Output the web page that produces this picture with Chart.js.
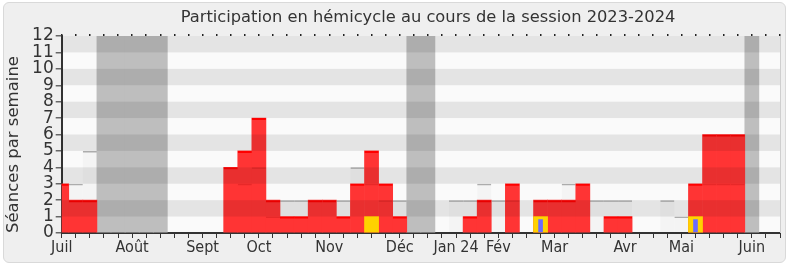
<!DOCTYPE html>
<html><head><meta charset="utf-8">
<script src="https://cdn.jsdelivr.net/npm/chart.js@4.4.0/dist/chart.umd.min.js"></script>
<style>
html,body{margin:0;padding:0;background:#fff;width:790px;height:267px;overflow:hidden}
#panel{position:absolute;left:3px;top:2px;width:783px;height:261px;background:#efefef;border:1px solid #d9d9d9;border-radius:6px;box-sizing:border-box}
#wrap{position:absolute;left:0;top:0;width:790px;height:267px}
</style></head><body>
<div id="panel"></div>
<div id="wrap"><canvas id="c" width="790" height="267"></canvas></div>
<script>
const titre = 'Participation en hémicycle au cours de la session 2023-2024';
const titreAxeY = 'Séances par semaine';
const mois = ['Juil','Août','Sept','Oct','Nov','Déc','Jan 24','Fév','Mar','Avr','Mai','Juin'];
const moisSemaine = [0,5,10,14,19,24,28,31,35,40,44,49];
const nbSemaines = 52;
const vacances = [3,4,5,6,7,25,26,49];
const presences = [3,2,2,0,0,0,0,0,0,0,0,0,4,5,7,2,1,1,2,2,1,3,5,3,1,0,0,0,0,1,2,0,3,0,2,2,2,3,0,1,1,0,0,0,0,3,6,6,6,0,0,0];
const mediane   = [3,3,5,0,0,0,0,0,0,0,0,0,4,3,4,1,2,2,2,2,2,4,3,2,2,0,0,0,2,2,3,2,2,0,2,2,3,3,2,2,2,0,0,2,1,3,3,3,3,0,0,0];
const interventions = [0,0,0,0,0,0,0,0,0,0,0,0,0,0,0,0,0,0,0,0,0,0,1,0,0,0,0,0,0,0,0,0,0,0,1,0,0,0,0,0,0,0,0,0,0,1,0,0,0,0,0,0];
const questions = [0,0,0,0,0,0,0,0,0,0,0,0,0,0,0,0,0,0,0,0,0,0,0,0,0,0,0,0,0,0,0,0,0,0,0.83,0,0,0,0,0,0,0,0,0,0,0.83,0,0,0,0,0,0];
const yMax = 12;

const etiquettes = [];
for (let i = 0; i < nbSemaines; i++) {
  const k = moisSemaine.indexOf(i);
  etiquettes.push(k >= 0 ? mois[k] : '');
}
const nz = v => (v ? v : null);
const vacData = etiquettes.map((_, i) => (vacances.includes(i) ? yMax : null));

const fond = {
  id: 'fond',
  beforeDraw(chart) {
    const {ctx, chartArea: a} = chart;
    ctx.save(); ctx.fillStyle = '#fafafa';
    ctx.fillRect(a.left, a.top, a.width, a.height); ctx.restore();
  },
  afterDatasetsDraw(chart) {
    const {ctx, chartArea: a, scales: {y}} = chart;
    ctx.save(); ctx.fillStyle = 'rgba(0,0,0,0.085)';
    for (let v = 1; v < yMax; v += 2) {
      const y1 = y.getPixelForValue(v + 1), y0 = y.getPixelForValue(v);
      ctx.fillRect(a.left, y1, a.width, y0 - y1);
    }
    ctx.strokeStyle = '#cfcfcf'; ctx.lineWidth = 1;
    ctx.beginPath(); ctx.moveTo(a.right + 0.5, a.top); ctx.lineTo(a.right + 0.5, a.bottom); ctx.stroke();
    ctx.restore();
  },
  afterDraw(chart) {
    const {ctx} = chart;
    ctx.save();
    ctx.font = '16.3px "DejaVu Sans"'; ctx.fillStyle = '#333';
    ctx.textAlign = 'center'; ctx.textBaseline = 'middle';
    ctx.fillText(titre, 428, 18);
    ctx.restore();
  }
};

const common = {grouped: false, barPercentage: 1, categoryPercentage: 1, clip: 0, borderSkipped: 'start'};
const topBorder = w => ({top: w, right: 0, bottom: 0, left: 0});
const ligne = (label, data, color, w, order) => Object.assign({label, data, backgroundColor: 'rgba(0,0,0,0)',
  borderColor: color, borderWidth: topBorder(w), order, inflateAmount: 0}, common);

new Chart(document.getElementById('c'), {
  type: 'bar',
  data: {
    labels: etiquettes,
    datasets: [
      Object.assign({label: 'Vacances', data: vacData, backgroundColor: '#bebebe', borderWidth: 0, order: 8}, common),
      Object.assign({label: 'Médiane', data: mediane.map(nz), backgroundColor: 'rgba(0,0,0,0.024)', borderWidth: 0, order: 7, inflateAmount: 0}, common),
      ligne('Médiane (ligne)', mediane.map(nz), '#acacac', 1.5, 6),
      Object.assign({label: 'Présences', data: presences.map(nz), backgroundColor: 'rgb(255,52,52)', borderWidth: 0, order: 5}, common),
      ligne('Médiane (sous présences)', mediane.map(nz),
        c => (presences[c.dataIndex] > mediane[c.dataIndex] ? 'rgba(150,0,0,0.22)' : 'rgba(0,0,0,0)'), 1.5, 4),
      ligne('Présences (ligne)', presences.map(nz), '#ff0000', 2, 3),
      Object.assign({label: 'Interventions', data: interventions.map(nz), backgroundColor: '#ffd200', borderWidth: 0, order: 2}, common),
      Object.assign({label: 'Questions', data: questions.map(nz), backgroundColor: '#6b6bff', borderWidth: 0, order: 1}, common, {barPercentage: 0.33})
    ]
  },
  options: {
    responsive: false,
    animation: false,
    layout: {padding: {left: 0, right: 10, top: 34, bottom: 4}},
    plugins: {
      legend: {display: false},
      tooltip: {enabled: false},
      title: {display: false}
    },
    scales: {
      x: {
        type: 'category', offset: false,
        grid: {offset: false, drawOnChartArea: false, tickLength: 5, color: '#333', lineWidth: 1},
        border: {color: '#333', width: 2},
        ticks: {autoSkip: false, maxRotation: 0, minRotation: 0, padding: 0, color: '#333',
          font: {family: "'DejaVu Sans Condensed', 'DejaVu Sans'", size: 16}},
        afterFit(s) { s.height = 30; }
      },
      xTop: {
        type: 'category', position: 'top', offset: false, labels: etiquettes,
        grid: {offset: false, drawOnChartArea: false, tickLength: 2, color: '#222', lineWidth: 1.5},
        border: {display: false},
        ticks: {display: false},
        afterFit(s) { s.height = 2; }
      },
      y: {
        min: 0, max: yMax,
        ticks: {stepSize: 1, autoSkip: false, padding: 2, color: '#333',
          font: {family: 'DejaVu Sans', size: 17}},
        grid: {drawOnChartArea: false, tickLength: 6, color: '#666', lineWidth: 1.5},
        border: {color: '#333', width: 2},
        title: {display: true, text: titreAxeY, align: 'start', color: '#333',
          font: {family: 'DejaVu Sans', size: 16.5}, padding: {top: 4, bottom: 0}},
        afterFit(s) { s.width = 61.7; }
      }
    }
  },
  plugins: [fond]
});
</script>
</body></html>
